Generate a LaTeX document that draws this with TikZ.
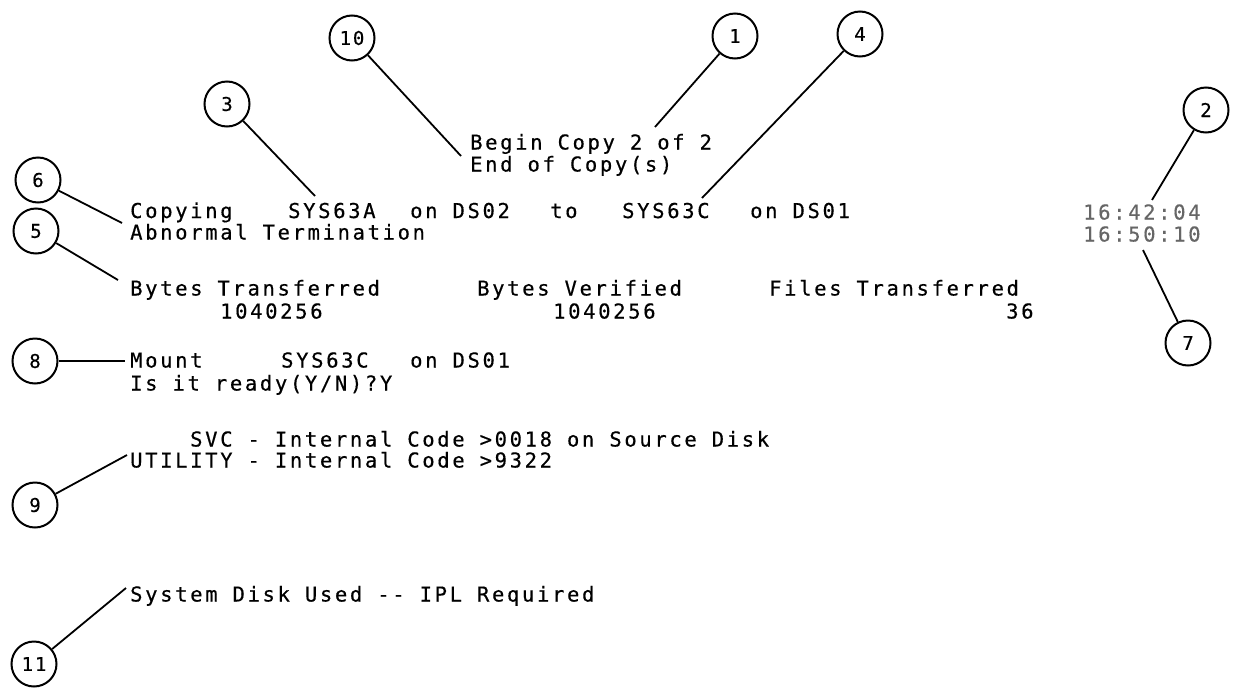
\documentclass[tikz,border=0pt]{standalone}
\usepackage{fontspec}
\newfontfamily\tmono[LetterSpace=13,FakeBold=0.5]{DejaVu Sans Mono}
\newfontfamily\cmono[LetterSpace=10,FakeBold=0.5]{DejaVu Sans Mono}
\begin{document}
\begin{tikzpicture}[x=1pt,y=-1pt,
  txt/.style={anchor=base west,inner sep=0pt,font=\tmono\fontsize{20.5}{24}\selectfont},
  faint/.style={txt,text=black!60},
  callout/.style={circle,draw,line width=2pt,minimum size=45pt,inner sep=0pt,font=\cmono\fontsize{19}{22}\selectfont},
  lead/.style={line width=1.8pt}]
\useasboundingbox (0,0) rectangle (1234,691);

% texts (y = centre + 7.5)
\node[txt] (begin) at (470,149.5) {Begin Copy 2 of 2};
\node[txt] (endc)  at (470,171.5) {End of Copy(s)};
\node[txt] (cpy)   at (130,218) {Copying};
\node[txt] (sysA)  at (288,218) {SYS63A};
\node[txt] (onA)   at (410,218) {on DS02};
\node[txt] (to)    at (550,218) {to};
\node[txt] (sysC)  at (622,218) {SYS63C};
\node[txt] (onC)   at (750,218) {on DS01};
\node[txt] (abn)   at (130,239.5) {Abnormal Termination};
\node[faint] (t1)  at (1083,219.5) {16:42:04};
\node[faint] (t2)  at (1083,241.5) {16:50:10};
\node[txt] (bt)    at (130,295.5) {Bytes Transferred};
\node[txt] (bv)    at (477,295.5) {Bytes Verified};
\node[txt] (ft)    at (769,295.5) {Files Transferred};
\node[txt] (n1)    at (220,318.5) {1040256};
\node[txt] (n2)    at (553,318.5) {1040256};
\node[txt] (n3)    at (1006,318.5) {36};
\node[txt] (mnt)   at (130,367.5) {Mount};
\node[txt] (sysM)  at (281,367.5) {SYS63C};
\node[txt] (onM)   at (410,367.5) {on DS01};
\node[txt] (rdy)   at (130,390.5) {Is it ready(Y/N)?Y};
\node[txt] (svc)   at (190,446.5) {SVC - Internal Code >0018 on Source Disk};
\node[txt] (util)  at (130,467.5) {UTILITY - Internal Code >9322};
\node[txt] (sysd)  at (130,601.5) {System Disk Used -- IPL Required};

% callouts
\node[callout] (c10) at (352,38) {10};
\node[callout] (c1)  at (735,36) {1};
\node[callout] (c4)  at (860,34) {4};
\node[callout] (c3)  at (227,104) {3};
\node[callout] (c2)  at (1206,110) {2};
\node[callout] (c6)  at (38,180) {6};
\node[callout] (c5)  at (36,231) {5};
\node[callout] (c7)  at (1188,343) {7};
\node[callout] (c8)  at (35,361) {8};
\node[callout] (c9)  at (35,505) {9};
\node[callout] (c11) at (34,664) {11};

% leader ends
\coordinate (e10) at (461,156);
\coordinate (e1)  at (655,127);
\coordinate (e4)  at (702,198);
\coordinate (e3)  at (315,196);
\coordinate (e2)  at (1152,200);
\coordinate (e7)  at (1143,250);
\coordinate (e6)  at (122,223);
\coordinate (e5)  at (118,280);
\coordinate (e8)  at (125,361);
\coordinate (e9)  at (127,455);
\coordinate (e11) at (126,588);

\draw[lead] (c10) -- (e10);
\draw[lead] (c1) -- (e1);
\draw[lead] (c4) -- (e4);
\draw[lead] (c3) -- (e3);
\draw[lead] (c2) -- (e2);
\draw[lead] (c7) -- (e7);
\draw[lead] (c6) -- (e6);
\draw[lead] (c5) -- (e5);
\draw[lead] (c8) -- (e8);
\draw[lead] (c9) -- (e9);
\draw[lead] (c11) -- (e11);
\end{tikzpicture}
\end{document}
